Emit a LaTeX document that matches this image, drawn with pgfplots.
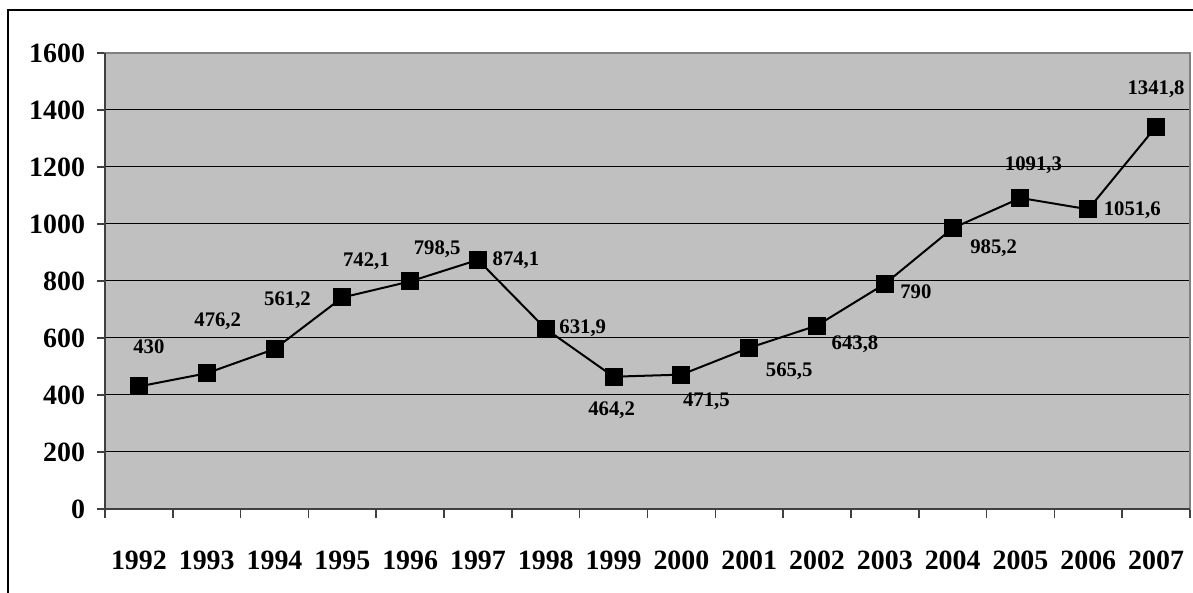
\documentclass[border=0pt]{standalone}
\usepackage{fontspec}
\setmainfont{Liberation Serif}
\usepackage{pgfplots}
\pgfplotsset{compat=1.18}

\definecolor{plotgray}{HTML}{C0C0C0}
\definecolor{axisdark}{HTML}{404040}

\newcommand{\ticktext}{\fontsize{14}{16}\selectfont\bfseries}
\newcommand{\labtext}{\fontsize{10.4}{12}\selectfont\bfseries}

\begin{document}
\begin{tikzpicture}
\useasboundingbox (-52.5bp,-42bp) rectangle (544bp,254.5bp);
% outer chart frame, only top and left edges are in view
\draw[black, line width=1bp] (-48.5bp,-45bp) -- (-48.5bp,249.5bp) -- (550bp,249.5bp);
\begin{axis}[
    at={(0,0)}, anchor=south west,
    scale only axis,
    width=542.5bp,
    height=228bp,
    xmin=-0.5, xmax=15.5,
    ymin=0, ymax=1600,
    axis background/.style={fill=plotgray},
    axis line style={draw=gray, line width=0.6bp},
    xtick={0,...,15},
    xticklabels={1992,1993,1994,1995,1996,1997,1998,1999,2000,2001,2002,2003,2004,2005,2006,2007},
    minor xtick={-0.5,0.5,...,15.5},
    major x tick style={draw=none},
    minor x tick style={draw=axisdark, line width=0.8bp},
    minor tick length=4.5bp,
    ytick={0,200,...,1600},
    major y tick style={draw=axisdark, line width=0.8bp},
    major tick length=4bp,
    tick align=outside,
    xtick pos=bottom,
    ytick pos=left,
    ymajorgrids=true,
    grid style={black, line width=0.5bp},
    xticklabel style={font=\ticktext, yshift=-13.5bp},
    yticklabel style={font=\ticktext, xshift=-2.5bp},
    /pgf/number format/assume math mode=true,
    /pgf/number format/1000 sep={},
    clip=false,
]
% darker left and bottom axis lines
\draw[axisdark, line width=1bp] (rel axis cs:0,1) -- (rel axis cs:0,0) -- (rel axis cs:1,0);

\addplot[black, line width=1bp, mark=square*, mark size=4bp,
    mark options={solid, fill=black}]
coordinates {
    (0,430)(1,476.2)(2,561.2)(3,742.1)(4,798.5)(5,874.1)(6,631.9)(7,464.2)
    (8,471.5)(9,565.5)(10,643.8)(11,790)(12,985.2)(13,1091.3)(14,1051.6)(15,1341.8)
};

\tikzset{lab/.style={font=\labtext, inner sep=0pt, text depth=0pt, anchor=center}}
\node[lab, xshift=5bp,    yshift=20bp]   at (axis cs:0,430)    {430};
\node[lab, xshift=5.5bp,  yshift=27bp]   at (axis cs:1,476.2)  {476,2};
\node[lab, xshift=6.5bp,  yshift=25bp]   at (axis cs:2,561.2)  {561,2};
\node[lab, xshift=12bp,   yshift=19bp]   at (axis cs:3,742.1)  {742,1};
\node[lab, xshift=13.5bp, yshift=17bp]   at (axis cs:4,798.5)  {798,5};
\node[lab, xshift=19bp,   yshift=0.5bp]  at (axis cs:5,874.1)  {874,1};
\node[lab, xshift=18.5bp, yshift=1bp]    at (axis cs:6,631.9)  {631,9};
\node[lab, xshift=-1bp,   yshift=-16bp]  at (axis cs:7,464.2)  {464,2};
\node[lab, xshift=12.5bp, yshift=-12.5bp] at (axis cs:8,471.5) {471,5};
\node[lab, xshift=20bp,   yshift=-11bp]  at (axis cs:9,565.5)  {565,5};
\node[lab, xshift=19bp,   yshift=-8.5bp] at (axis cs:10,643.8) {643,8};
\node[lab, xshift=15.5bp, yshift=-4bp]   at (axis cs:11,790)   {790};
\node[lab, xshift=20.5bp, yshift=-9bp]   at (axis cs:12,985.2) {985,2};
\node[lab, xshift=6.5bp,  yshift=17bp]   at (axis cs:13,1091.3) {1091,3};
\node[lab, xshift=22bp,   yshift=0.5bp]  at (axis cs:14,1051.6) {1051,6};
\node[lab, xshift=0bp,    yshift=19.5bp] at (axis cs:15,1341.8) {1341,8};
\end{axis}
\end{tikzpicture}
\end{document}
